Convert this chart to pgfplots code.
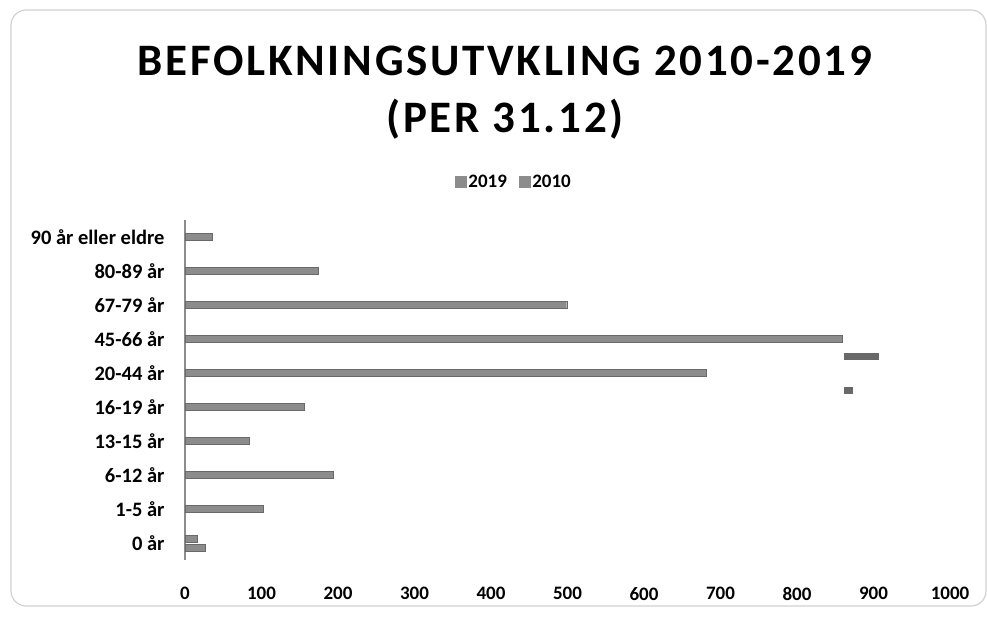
\documentclass[border=0pt]{standalone}
\usepackage{pgfplots}
\pgfplotsset{compat=1.18}
\usepackage{fontspec}
\setmainfont{Carlito}
\newfontfamily\titlefont[LetterSpace=6]{Carlito}
\definecolor{barfill}{RGB}{140,140,140}
\definecolor{baredge}{RGB}{105,105,105}
\begin{document}
\begin{tikzpicture}[x=1pt,y=1pt]
\useasboundingbox (0,0) rectangle (987,619);
\draw[black!18, line width=1.2pt, rounded corners=15pt] (11,13) rectangle (986,609);
\node[font=\titlefont\bfseries\fontsize{45}{54}\selectfont] at (505,558) {BEFOLKNINGSUTVKLING 2010-2019};
\node[font=\titlefont\bfseries\fontsize{45}{54}\selectfont] at (505,500) {(PER 31.12)};
\begin{axis}[
  at={(185pt,59pt)}, anchor=south west,
  scale only axis, width=765pt, height=340pt,
  xmin=0, xmax=1000, ymin=-0.5, ymax=9.5,
  separate axis lines,
  axis x line*=bottom, axis y line*=left,
  x axis line style={draw=none},
  y axis line style={draw=black!45, line width=1.5pt, -},
  xtick={0,100,...,1000},
  ytick={0,...,9},
  yticklabels={0 år,1-5 år,6-12 år,13-15 år,16-19 år,20-44 år,45-66 år,67-79 år,80-89 år,90 år eller eldre},
  tick style={draw=none},
  /pgf/number format/assume math mode=true,
  /pgf/number format/1000 sep={},
  xticklabel style={font=\bfseries\fontsize{19}{22}\selectfont, yshift=-24pt},
  yticklabel style={font=\bfseries\fontsize{20.5}{23}\selectfont, xshift=-17pt},
  legend style={at={(rel axis cs:0.43,1.112)}, anchor=center, draw=none,
    legend columns=-1, font=\bfseries\fontsize{19}{22}\selectfont,
    /tikz/every even column/.append style={column sep=10pt}},
  legend image code/.code={\fill[barfill] (0pt,-5.5pt) rectangle (11pt,5.5pt);},
]
\addplot[xbar, bar shift=0pt, bar width=7pt, fill=barfill, draw=baredge]
  coordinates {(16,0.13) (102,1) (194,2) (84,3) (156,4) (681,5) (859,6) (499,7) (174,8) (35,9)};
\addlegendentry{2019}
\addplot[xbar, bar shift=0pt, bar width=7pt, fill=barfill, draw=baredge]
  coordinates {(26,-0.13)};
\addlegendentry{2010}
\addplot[forget plot, baredge, line width=7pt, line cap=butt] coordinates {(861,5.5) (907,5.5)};
\addplot[forget plot, baredge, line width=7pt, line cap=butt] coordinates {(861,4.5) (873,4.5)};
\end{axis}
\end{tikzpicture}
\end{document}
